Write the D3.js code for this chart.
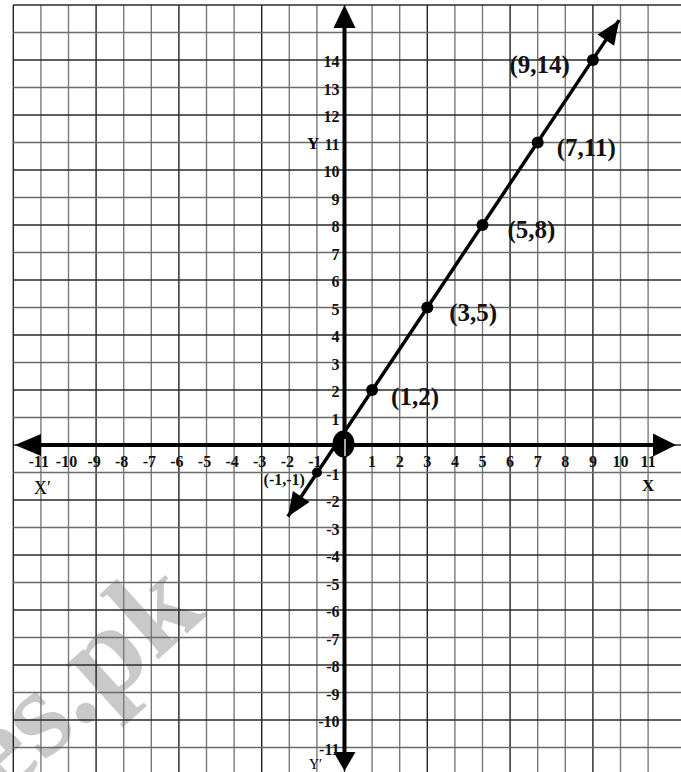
<!DOCTYPE html>
<html>
<head>
<meta charset="utf-8">
<script src="https://cdn.jsdelivr.net/npm/d3@7"></script>
<style>
  body { margin: 0; background: #fff; }
  svg { display: block; }
  text { font-family: "Liberation Serif", "Times New Roman", Tinos, Times, serif; }
  .tick { font-weight: bold; font-size: 16px; fill: #111; }
  .plabel { font-weight: bold; fill: #111; }
</style>
</head>
<body>
<div id="chart"></div>
<script>
// grid extent (in graph units)
const gridX = [-12, -11, -10, -9, -8, -7, -6, -5, -4, -3, -2, -1, 0, 1, 2, 3, 4, 5, 6, 7, 8, 9, 10, 11];
const gridY = [16, 15, 14, 13, 12, 11, 10, 9, 8, 7, 6, 5, 4, 3, 2, 1, 0, -1, -2, -3, -4, -5, -6, -7, -8, -9, -10, -11];

// tick labels
const xTicks = [-11, -10, -9, -8, -7, -6, -5, -4, -3, -2, -1, 1, 2, 3, 4, 5, 6, 7, 8, 9, 10, 11];
const yTicks = [14, 13, 12, 11, 10, 9, 8, 7, 6, 5, 4, 3, 2, 1, -1, -2, -3, -4, -5, -6, -7, -8, -9, -10, -11];

// plotted points of y = (3x+1)/2
const ptX = [-1, 1, 3, 5, 7, 9];
const ptY = [-1, 2, 5, 8, 11, 14];
const ptLabels = ["(-1,-1)", "(1,2)", "(3,5)", "(5,8)", "(7,11)", "(9,14)"];

// ends of the drawn line (arrow tips)
const lineEnds = [[-2.05, -2.6], [9.95, 15.45]];

const width = 681, height = 772;

const x = d3.scaleLinear().domain([0, 1]).range([344.5, 372.1]);
const y = d3.scaleLinear().domain([0, 1]).range([445, 417.5]);

const svg = d3.select("#chart").append("svg")
    .attr("width", width)
    .attr("height", height);

// watermark
svg.append("text")
    .attr("transform", "translate(2,800) rotate(-42)")
    .attr("font-weight", "bold")
    .attr("font-size", 126)
    .attr("fill", "#c9c9c9")
    .text("es.pk");

// grid
const grid = svg.append("g").attr("class", "grid");
grid.selectAll(".vline")
    .data(gridX)
    .enter()
    .append("line")
    .attr("x1", d => x(d)).attr("x2", d => x(d))
    .attr("y1", y(16)).attr("y2", height)
    .attr("stroke", d => (d % 3 === 0) ? "#222" : "#7a7a7a")
    .attr("stroke-width", 1.4);

grid.selectAll(".hline")
    .data(gridY)
    .enter()
    .append("line")
    .attr("y1", d => y(d)).attr("y2", d => y(d))
    .attr("x1", x(-12)).attr("x2", width)
    .attr("stroke", d => (d % 2 === 0) ? "#2a2a2a" : "#6a6a6a")
    .attr("stroke-width", 1.4);

// arrow head helper: tip at (tx,ty), pointing along angle a
function arrowHead(tx, ty, a, len, half) {
    const bx = tx - len * Math.cos(a), by = ty - len * Math.sin(a);
    const px = -Math.sin(a) * half, py = Math.cos(a) * half;
    return `M${tx},${ty}L${bx + px},${by + py}L${bx - px},${by - py}Z`;
}

// axes
const axes = svg.append("g");
axes.append("line")
    .attr("x1", x(-12) + 18).attr("x2", width - 20)
    .attr("y1", y(0)).attr("y2", y(0))
    .attr("stroke", "#000").attr("stroke-width", 4);
axes.append("line")
    .attr("x1", x(0)).attr("x2", x(0))
    .attr("y1", y(16) + 18).attr("y2", height - 15)
    .attr("stroke", "#000").attr("stroke-width", 4);

axes.append("path").attr("d", arrowHead(15, y(0), Math.PI, 26, 11));
axes.append("path").attr("d", arrowHead(676, y(0), 0, 23, 11.5));
axes.append("path").attr("d", arrowHead(x(0), 5, -Math.PI / 2, 23, 11));
axes.append("path").attr("d", arrowHead(x(0), 771, Math.PI / 2, 19, 11));

// tick labels
svg.selectAll(".xt")
    .data(xTicks)
    .enter()
    .append("text")
    .attr("class", "tick")
    .attr("x", d => x(d) + (d < 0 ? -2 : 0))
    .attr("y", y(0) + 22)
    .attr("text-anchor", "middle")
    .text(d => d);

svg.selectAll(".yt")
    .data(yTicks)
    .enter()
    .append("text")
    .attr("class", "tick")
    .attr("x", x(0) - 5)
    .attr("y", d => y(d) + 7)
    .attr("text-anchor", "end")
    .text(d => d);

// axis names
svg.append("text").attr("x", 34).attr("y", 494)
    .attr("font-size", 18).text("X\u2032");
svg.append("text").attr("x", 642).attr("y", 491)
    .attr("font-size", 17).attr("font-weight", "bold").text("X");
svg.append("text").attr("x", 307).attr("y", 149)
    .attr("font-size", 17).attr("font-weight", "bold").text("Y");
svg.append("text").attr("x", 309).attr("y", 769)
    .attr("font-size", 14).text("Y\u2032");

// the line
svg.append("line")
    .attr("x1", x(lineEnds[0][0])).attr("y1", y(lineEnds[0][1]))
    .attr("x2", x(lineEnds[1][0])).attr("y2", y(lineEnds[1][1]))
    .attr("stroke", "#000").attr("stroke-width", 3.5);

const ang = Math.atan2(y(lineEnds[1][1]) - y(lineEnds[0][1]), x(lineEnds[1][0]) - x(lineEnds[0][0]));
svg.append("path").attr("d", arrowHead(x(lineEnds[1][0]), y(lineEnds[1][1]), ang, 24, 10));
svg.append("path").attr("d", arrowHead(x(lineEnds[0][0]), y(lineEnds[0][1]), ang + Math.PI, 24, 10));

// origin "0"
svg.append("ellipse")
    .attr("cx", x(0) - 1).attr("cy", y(0) - 1)
    .attr("rx", 11).attr("ry", 13.5)
    .attr("fill", "#000");
svg.append("line")
    .attr("x1", x(0) + 0.5).attr("x2", x(0) + 0.5)
    .attr("y1", y(0) - 6).attr("y2", y(0) + 11)
    .attr("stroke", "#fff").attr("stroke-width", 1.3);

// points
svg.selectAll(".pt")
    .data(ptX)
    .enter()
    .append("circle")
    .attr("cx", d => x(d))
    .attr("cy", (d, i) => y(ptY[i]))
    .attr("r", (d, i) => i === 0 ? 5 : 6)
    .attr("fill", "#000");

// point labels
const labelDx = [-12, 19, 22, 25, 19, -23];
const labelDy = [12, 15, 13, 13, 13, 13];
const labelSize = [16, 25, 25, 25, 25, 25];
svg.selectAll(".pl")
    .data(ptLabels)
    .enter()
    .append("text")
    .attr("class", "plabel")
    .attr("x", (d, i) => x(ptX[i]) + labelDx[i])
    .attr("y", (d, i) => y(ptY[i]) + labelDy[i])
    .attr("font-size", (d, i) => labelSize[i])
    .attr("text-anchor", (d, i) => labelDx[i] < 0 ? "end" : "start")
    .text(d => d);
</script>
</body>
</html>
